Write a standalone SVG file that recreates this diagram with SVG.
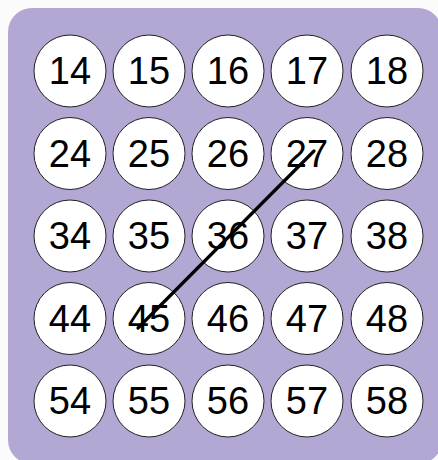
<svg xmlns="http://www.w3.org/2000/svg" width="438" height="460" viewBox="0 0 438 460">
<style>
.n circle{fill:#fff;stroke:#222;stroke-width:1}
.n text{font-family:"Liberation Sans",Arial,sans-serif;font-size:38px;fill:#000;text-anchor:middle}
.c{stroke:#000;stroke-width:3.2;stroke-linecap:round;fill:none}
</style>
<rect x="0" y="0" width="438" height="460" fill="#fbfbfb"/>
<rect x="8" y="8" width="434" height="456" rx="24" fill="#b3a7d3"/>
<g id="n14" class="n"><circle cx="70" cy="71" r="36"/><text x="70" y="84">14</text></g>
<g id="n15" class="n"><circle cx="149" cy="71" r="36"/><text x="149" y="84">15</text></g>
<g id="n16" class="n"><circle cx="228" cy="71" r="36"/><text x="228" y="84">16</text></g>
<g id="n17" class="n"><circle cx="307" cy="71" r="36"/><text x="307" y="84">17</text></g>
<g id="n18" class="n"><circle cx="387" cy="71" r="36"/><text x="387" y="84">18</text></g>
<g id="n24" class="n"><circle cx="70" cy="153.5" r="36"/><text x="70" y="166.5">24</text></g>
<g id="n25" class="n"><circle cx="149" cy="153.5" r="36"/><text x="149" y="166.5">25</text></g>
<g id="n26" class="n"><circle cx="228" cy="153.5" r="36"/><text x="228" y="166.5">26</text></g>
<g id="n27" class="n"><circle cx="307" cy="153.5" r="36"/><text x="307" y="166.5">27</text></g>
<g id="n28" class="n"><circle cx="387" cy="153.5" r="36"/><text x="387" y="166.5">28</text></g>
<g id="n34" class="n"><circle cx="70" cy="236" r="36"/><text x="70" y="249">34</text></g>
<g id="n35" class="n"><circle cx="149" cy="236" r="36"/><text x="149" y="249">35</text></g>
<g id="n36" class="n"><circle cx="228" cy="236" r="36"/><text x="228" y="249">36</text></g>
<g id="n37" class="n"><circle cx="307" cy="236" r="36"/><text x="307" y="249">37</text></g>
<g id="n38" class="n"><circle cx="387" cy="236" r="36"/><text x="387" y="249">38</text></g>
<g id="n44" class="n"><circle cx="70" cy="318.5" r="36"/><text x="70" y="331.5">44</text></g>
<g id="n45" class="n"><circle cx="149" cy="318.5" r="36"/><text x="149" y="331.5">45</text></g>
<g id="n46" class="n"><circle cx="228" cy="318.5" r="36"/><text x="228" y="331.5">46</text></g>
<g id="n47" class="n"><circle cx="307" cy="318.5" r="36"/><text x="307" y="331.5">47</text></g>
<g id="n48" class="n"><circle cx="387" cy="318.5" r="36"/><text x="387" y="331.5">48</text></g>
<g id="n54" class="n"><circle cx="70" cy="401" r="36"/><text x="70" y="414">54</text></g>
<g id="n55" class="n"><circle cx="149" cy="401" r="36"/><text x="149" y="414">55</text></g>
<g id="n56" class="n"><circle cx="228" cy="401" r="36"/><text x="228" y="414">56</text></g>
<g id="n57" class="n"><circle cx="307" cy="401" r="36"/><text x="307" y="414">57</text></g>
<g id="n58" class="n"><circle cx="387" cy="401" r="36"/><text x="387" y="414">58</text></g>
<g id="connectors">
<line class="c" x1="138" y1="328" x2="314" y2="151"/>
</g>
</svg>
